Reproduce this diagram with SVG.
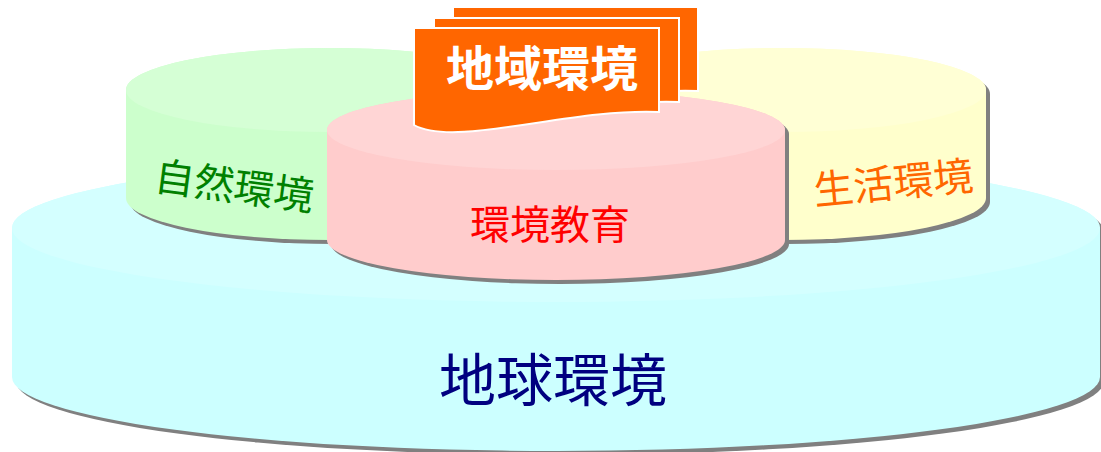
<svg xmlns="http://www.w3.org/2000/svg" width="1101" height="452" viewBox="0 0 1101 452">
  <style>
    .shadow { fill: #808080; }
    .cjk { font-family: "Noto Sans CJK JP", "Noto Sans CJK TC", sans-serif; }
    .sheet { fill: #FF6600; stroke: #FFFFFF; stroke-width: 2; }
  </style>
  <defs>
    <path id="cylCyan" d="M12,228 L12,377 A544,74 0 0 0 1100,377 L1100,228 A544,74 0 0 0 12,228 Z"/>
    <path id="cylGreen" d="M126,90 L126,198 A204,42 0 0 0 534,198 L534,90 A204,42 0 0 0 126,90 Z"/>
    <path id="cylYellow" d="M578,90 L578,198 A204,42 0 0 0 986,198 L986,90 A204,42 0 0 0 578,90 Z"/>
    <path id="cylPink" d="M327,130 L327,240 A229,40 0 0 0 785,240 L785,130 A229,40 0 0 0 327,130 Z"/>
    <path id="doc" d="M414,28 L659,28 L659,112 C570,108 455,148 414,125 Z"/>
  </defs>

  <g id="earth">
    <use href="#cylCyan" class="shadow" transform="translate(4,4)"/>
    <use href="#cylCyan" fill="#CCFFFF"/>
    <ellipse cx="556" cy="228" rx="544" ry="74" fill="#D4FFFF"/>
    <text class="cjk" x="553" y="401" font-size="57" fill="#000080" text-anchor="middle">地球環境</text>
  </g>

  <g id="nature">
    <use href="#cylGreen" class="shadow" transform="translate(4,4)"/>
    <use href="#cylGreen" fill="#CCFFCC"/>
    <ellipse cx="330" cy="90" rx="204" ry="42" fill="#D5FFD5"/>
    <text class="cjk" x="153" y="190" font-size="40" fill="#008000" transform="rotate(7.5 153 190)">自然環境</text>
  </g>

  <g id="life">
    <use href="#cylYellow" class="shadow" transform="translate(4,4)"/>
    <use href="#cylYellow" fill="#FFFFCC"/>
    <ellipse cx="782" cy="90" rx="204" ry="42" fill="#FFFFD5"/>
    <text class="cjk" x="815" y="205" font-size="40" fill="#FF6600" transform="rotate(-5.5 815 205)">生活環境</text>
  </g>

  <g id="education">
    <use href="#cylPink" class="shadow" transform="translate(4,4)"/>
    <use href="#cylPink" fill="#FFCCCC"/>
    <ellipse cx="556" cy="130" rx="229" ry="40" fill="#FFD5D5"/>
    <text class="cjk" x="550" y="239" font-size="40" fill="#FF0000" text-anchor="middle">環境教育</text>
  </g>

  <g id="region">
    <use href="#doc" class="sheet" transform="translate(39,-21)"/>
    <use href="#doc" class="sheet" transform="translate(20,-10)"/>
    <use href="#doc" class="sheet"/>
    <text class="cjk" x="542" y="86" font-size="48" font-weight="bold" fill="#FFFFFF" text-anchor="middle">地域環境</text>
  </g>
</svg>
